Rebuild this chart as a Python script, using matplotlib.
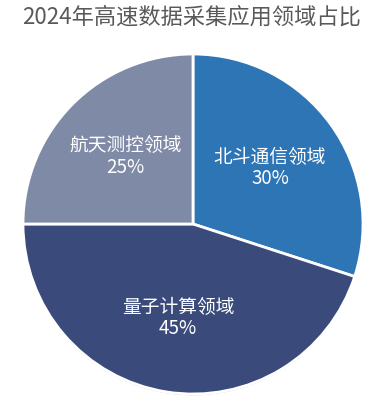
import matplotlib
matplotlib.use("Agg")
import matplotlib.pyplot as plt
import matplotlib.patheffects as pe

plt.rcParams['font.family'] = ['Noto Sans CJK SC', 'DejaVu Sans']

title = "2024年高速数据采集应用领域占比"
categories = ["北斗通信领域", "量子计算领域", "航天测控领域"]
shares = [30, 45, 25]
colors = ["#2E75B6", "#3A4B7B", "#7F8AA6"]

fig = plt.figure(figsize=(3.84, 4.05), dpi=100)
ax = fig.add_axes([23 / 384, 11 / 405, 340 / 384, 340 / 405])


def fmt(pct):
    i = fmt.n
    fmt.n += 1
    return "%s\n%d%%" % (categories[i], round(pct))


fmt.n = 0

wedges, texts, autotexts = ax.pie(
    shares, colors=colors, startangle=90, counterclock=False,
    autopct=fmt, pctdistance=0.56,
    wedgeprops=dict(edgecolor="white", linewidth=2),
    textprops=dict(color="white", fontsize=13.5, linespacing=1.05),
)
for w in wedges:
    w.set_path_effects([pe.SimplePatchShadow(offset=(0, -1), alpha=0.25), pe.Normal()])
ax.set_xlim(-1, 1)
ax.set_ylim(-1, 1)
ax.set_aspect("auto")
ax.axis("off")

fig.text(0.5, 1 - 17 / 405, title, ha="center", va="center",
         fontsize=16, color="#595959")

fig.savefig("out.png", dpi=100)
